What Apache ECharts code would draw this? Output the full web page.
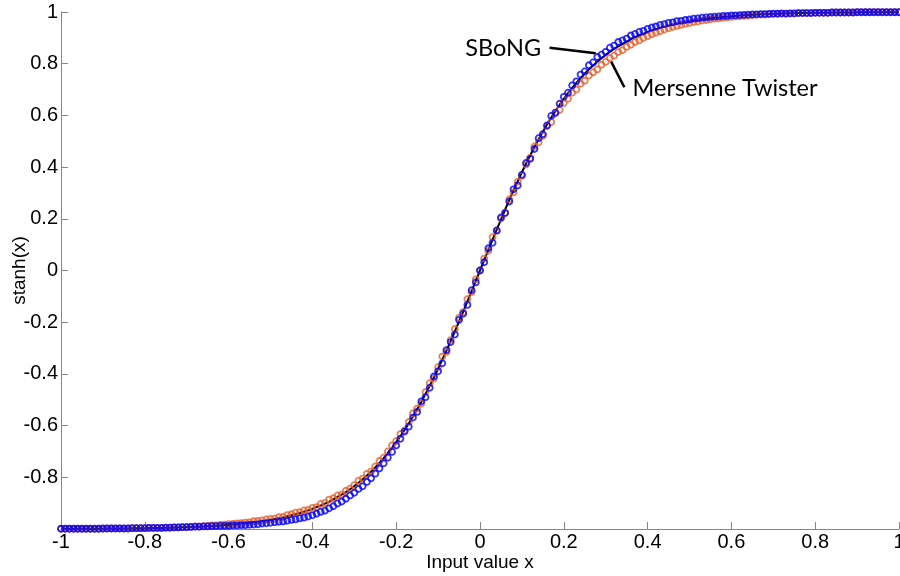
<!DOCTYPE html>
<html><head><meta charset="utf-8">
<style>html,body{margin:0;padding:0;background:#fff}#c{width:900px;height:576px}</style>
<script src="https://cdn.jsdelivr.net/npm/echarts@6/dist/echarts.min.js"></script>
</head><body><div id="c"></div>
<script>
// x sample positions
const X = [
-1,-0.99,-0.98,-0.97,-0.96,-0.95,-0.94,-0.93,-0.92,-0.91,
-0.9,-0.89,-0.88,-0.87,-0.86,-0.85,-0.84,-0.83,-0.82,-0.81,
-0.8,-0.79,-0.78,-0.77,-0.76,-0.75,-0.74,-0.73,-0.72,-0.71,
-0.7,-0.69,-0.68,-0.67,-0.66,-0.65,-0.64,-0.63,-0.62,-0.61,
-0.6,-0.59,-0.58,-0.57,-0.56,-0.55,-0.54,-0.53,-0.52,-0.51,
-0.5,-0.49,-0.48,-0.47,-0.46,-0.45,-0.44,-0.43,-0.42,-0.41,
-0.4,-0.39,-0.38,-0.37,-0.36,-0.35,-0.34,-0.33,-0.32,-0.31,
-0.3,-0.29,-0.28,-0.27,-0.26,-0.25,-0.24,-0.23,-0.22,-0.21,
-0.2,-0.19,-0.18,-0.17,-0.16,-0.15,-0.14,-0.13,-0.12,-0.11,
-0.1,-0.09,-0.08,-0.07,-0.06,-0.05,-0.04,-0.03,-0.02,-0.01,
0,
0.01,0.02,0.03,0.04,0.05,0.06,0.07,0.08,0.09,0.1,
0.11,0.12,0.13,0.14,0.15,0.16,0.17,0.18,0.19,0.2,
0.21,0.22,0.23,0.24,0.25,0.26,0.27,0.28,0.29,0.3,
0.31,0.32,0.33,0.34,0.35,0.36,0.37,0.38,0.39,0.4,
0.41,0.42,0.43,0.44,0.45,0.46,0.47,0.48,0.49,0.5,
0.51,0.52,0.53,0.54,0.55,0.56,0.57,0.58,0.59,0.6,
0.61,0.62,0.63,0.64,0.65,0.66,0.67,0.68,0.69,0.7,
0.71,0.72,0.73,0.74,0.75,0.76,0.77,0.78,0.79,0.8,
0.81,0.82,0.83,0.84,0.85,0.86,0.87,0.88,0.89,0.9,
0.91,0.92,0.93,0.94,0.95,0.96,0.97,0.98,0.99,1
];

// exact curve (black line)
const EXACT = [
-0.999,-0.999,-0.999,-0.999,-0.999,-0.999,-0.999,-0.999,-0.999,-0.999,
-0.999,-0.998,-0.998,-0.998,-0.998,-0.998,-0.998,-0.997,-0.997,-0.997,
-0.997,-0.996,-0.996,-0.996,-0.996,-0.995,-0.995,-0.994,-0.994,-0.993,
-0.993,-0.992,-0.991,-0.991,-0.990,-0.989,-0.988,-0.987,-0.986,-0.985,
-0.984,-0.982,-0.981,-0.979,-0.978,-0.976,-0.974,-0.972,-0.969,-0.967,
-0.964,-0.961,-0.958,-0.955,-0.951,-0.947,-0.943,-0.938,-0.933,-0.928,
-0.922,-0.915,-0.909,-0.902,-0.894,-0.885,-0.876,-0.867,-0.857,-0.846,
-0.834,-0.821,-0.808,-0.793,-0.778,-0.762,-0.744,-0.726,-0.706,-0.686,
-0.664,-0.641,-0.617,-0.592,-0.565,-0.537,-0.508,-0.478,-0.446,-0.414,
-0.380,-0.345,-0.310,-0.273,-0.236,-0.197,-0.159,-0.119,-0.080,-0.040,
0,
0.040,0.080,0.119,0.159,0.197,0.236,0.273,0.310,0.345,0.380,
0.414,0.446,0.478,0.508,0.537,0.565,0.592,0.617,0.641,0.664,
0.686,0.706,0.726,0.744,0.762,0.778,0.793,0.808,0.821,0.834,
0.846,0.857,0.867,0.876,0.885,0.894,0.902,0.909,0.915,0.922,
0.928,0.933,0.938,0.943,0.947,0.951,0.955,0.958,0.961,0.964,
0.967,0.969,0.972,0.974,0.976,0.978,0.979,0.981,0.982,0.984,
0.985,0.986,0.987,0.988,0.989,0.990,0.991,0.991,0.992,0.993,
0.993,0.994,0.994,0.995,0.995,0.996,0.996,0.996,0.996,0.997,
0.997,0.997,0.997,0.998,0.998,0.998,0.998,0.998,0.998,0.999,
0.999,0.999,0.999,0.999,0.999,0.999,0.999,0.999,0.999,0.999
];

// Mersenne Twister (orange circles)
const MT = [
-0.999,-0.999,-0.999,-0.999,-0.999,-0.999,-0.999,-0.999,-0.999,-0.999,
-0.999,-0.998,-0.998,-0.998,-0.998,-0.998,-0.998,-0.997,-0.997,-0.997,
-0.997,-0.996,-0.996,-0.996,-0.996,-0.995,-0.995,-0.994,-0.994,-0.993,
-0.993,-0.992,-0.990,-0.991,-0.989,-0.988,-0.986,-0.986,-0.984,-0.983,
-0.981,-0.980,-0.978,-0.977,-0.975,-0.974,-0.970,-0.969,-0.967,-0.963,
-0.961,-0.960,-0.954,-0.953,-0.946,-0.943,-0.937,-0.935,-0.928,-0.926,
-0.918,-0.915,-0.903,-0.899,-0.886,-0.881,-0.870,-0.867,-0.852,-0.844,
-0.830,-0.813,-0.805,-0.787,-0.778,-0.758,-0.737,-0.724,-0.700,-0.677,
-0.660,-0.633,-0.619,-0.586,-0.553,-0.534,-0.514,-0.470,-0.436,-0.418,
-0.374,-0.333,-0.315,-0.269,-0.226,-0.183,-0.161,-0.111,-0.084,-0.034,
0,
0.046,0.076,0.129,0.153,0.201,0.224,0.275,0.302,0.343,0.366,
0.410,0.436,0.480,0.496,0.521,0.559,0.574,0.607,0.621,0.648,
0.664,0.688,0.700,0.722,0.734,0.754,0.767,0.778,0.796,0.807,
0.822,0.831,0.845,0.852,0.865,0.873,0.884,0.890,0.899,0.906,
0.914,0.920,0.926,0.932,0.937,0.942,0.946,0.950,0.954,0.957,
0.961,0.963,0.967,0.969,0.972,0.974,0.975,0.978,0.979,0.981,
0.983,0.984,0.985,0.986,0.987,0.989,0.990,0.990,0.991,0.992,
0.992,0.993,0.993,0.994,0.994,0.996,0.996,0.996,0.996,0.997,
0.997,0.997,0.997,0.998,0.998,0.998,0.998,0.998,0.998,0.999,
0.999,0.999,0.999,0.999,0.999,0.999,0.999,0.999,0.999,0.999
];

// SBoNG (blue circles)
const SBONG = [
-0.999,-0.999,-0.999,-0.999,-0.999,-0.999,-0.999,-0.999,-0.999,-0.999,
-0.998,-0.998,-0.998,-0.998,-0.998,-0.998,-0.998,-0.997,-0.997,-0.997,
-0.997,-0.996,-0.996,-0.996,-0.996,-0.995,-0.995,-0.994,-0.994,-0.993,
-0.993,-0.992,-0.991,-0.991,-0.990,-0.990,-0.989,-0.989,-0.988,-0.988,
-0.988,-0.986,-0.986,-0.985,-0.985,-0.984,-0.983,-0.982,-0.979,-0.978,
-0.976,-0.974,-0.972,-0.971,-0.968,-0.965,-0.963,-0.959,-0.956,-0.952,
-0.947,-0.941,-0.934,-0.929,-0.920,-0.912,-0.901,-0.894,-0.883,-0.870,
-0.860,-0.845,-0.835,-0.818,-0.804,-0.786,-0.766,-0.746,-0.724,-0.702,
-0.677,-0.651,-0.623,-0.604,-0.569,-0.547,-0.506,-0.490,-0.454,-0.410,
-0.390,-0.359,-0.308,-0.277,-0.248,-0.191,-0.167,-0.133,-0.076,-0.046,
0,
0.032,0.086,0.107,0.155,0.205,0.222,0.267,0.314,0.329,0.370,
0.416,0.432,0.470,0.512,0.527,0.561,0.598,0.611,0.645,0.672,
0.688,0.716,0.732,0.758,0.770,0.794,0.805,0.826,0.835,0.846,
0.862,0.870,0.884,0.890,0.897,0.909,0.915,0.923,0.927,0.935,
0.940,0.944,0.950,0.953,0.958,0.960,0.965,0.966,0.969,0.971,
0.974,0.975,0.978,0.979,0.981,0.982,0.983,0.985,0.985,0.987,
0.987,0.988,0.989,0.990,0.991,0.991,0.992,0.992,0.993,0.994,
0.994,0.995,0.994,0.995,0.995,0.996,0.996,0.996,0.996,0.997,
0.997,0.997,0.997,0.998,0.998,0.998,0.998,0.998,0.998,0.999,
0.999,0.999,0.999,0.999,0.999,0.999,0.999,0.999,0.999,0.999
];

// annotation anchors in data coordinates
const LABEL_SBONG = {text: 'SBoNG', at: [0.146, 0.861], from: [0.166, 0.862], to: [0.276, 0.840]};
const LABEL_MT = {text: 'Mersenne Twister', at: [0.364, 0.706], from: [0.313, 0.808], to: [0.3445, 0.709]};

const pairs = arr => X.map((x, i) => [x, arr[i]]);
const AX = '#868686';
const TXT = {color: '#000', fontSize: 20, fontFamily: 'Liberation Sans'};
const NAMETXT = {color: '#000', fontSize: 19, fontFamily: 'Liberation Sans'};

const chart = echarts.init(document.getElementById('c'), null, {renderer: 'canvas'});
chart.setOption({
  animation: false,
  backgroundColor: '#fff',
  grid: {left: 61, right: 1, top: 12, bottom: 47, containLabel: false, outerBoundsMode: 'none'},
  xAxis: {
    type: 'value', min: -1, max: 1, interval: 0.2,
    axisLine: {onZero: false, lineStyle: {color: AX, width: 1}},
    axisTick: {inside: true, length: 7, lineStyle: {color: AX}},
    splitLine: {show: false},
    axisLabel: Object.assign({margin: 3}, TXT),
    name: 'Input value x', nameLocation: 'middle', nameGap: 24, nameMoveOverlap: false,
    nameTextStyle: NAMETXT
  },
  yAxis: {
    type: 'value', min: -1, max: 1, interval: 0.2,
    axisLine: {show: true, onZero: false, lineStyle: {color: AX, width: 1}},
    axisTick: {show: true, inside: true, length: 7, lineStyle: {color: AX}},
    splitLine: {show: false},
    axisLabel: Object.assign({margin: 3, formatter: v => (v <= -1 ? '' : String(+v.toFixed(1)))}, TXT),
    name: 'stanh(x)', nameLocation: 'middle', nameGap: 32, nameRotate: 90, nameMoveOverlap: false,
    nameTextStyle: NAMETXT
  },
  series: [
    {type: 'line', data: pairs(EXACT), showSymbol: false, symbol: 'none',
     lineStyle: {color: '#000', width: 2}, z: 1},
    {type: 'scatter', data: pairs(MT), symbol: 'circle', symbolSize: 6,
     itemStyle: {color: 'rgba(0,0,0,0)', borderColor: '#E65F2A', borderWidth: 1.8}, z: 2},
    {type: 'scatter', data: pairs(SBONG), symbol: 'circle', symbolSize: 6,
     itemStyle: {color: 'rgba(0,0,0,0)', borderColor: '#0000FF', borderWidth: 1.8}, z: 3}
  ]
});

function px(p) { return chart.convertToPixel({gridIndex: 0}, p); }
const s1 = px(LABEL_SBONG.from), s2 = px(LABEL_SBONG.to), st = px(LABEL_SBONG.at);
const m1 = px(LABEL_MT.from), m2 = px(LABEL_MT.to), mt = px(LABEL_MT.at);
const ANN_FONT = {fontSize: 23.5, fontFamily: 'Lato', fill: '#000'};
chart.setOption({
  graphic: [
    {type: 'line', shape: {x1: s1[0], y1: s1[1], x2: s2[0], y2: s2[1]}, style: {stroke: '#000', lineWidth: 2.5}, z: 10},
    {type: 'line', shape: {x1: m1[0], y1: m1[1], x2: m2[0], y2: m2[1]}, style: {stroke: '#000', lineWidth: 2.5}, z: 10},
    {type: 'text', x: st[0], y: st[1], style: Object.assign({text: LABEL_SBONG.text, align: 'right', verticalAlign: 'middle'}, ANN_FONT), z: 10},
    {type: 'text', x: mt[0], y: mt[1], style: Object.assign({text: LABEL_MT.text, align: 'left', verticalAlign: 'middle'}, ANN_FONT), z: 10}
  ]
});
</script></body></html>
